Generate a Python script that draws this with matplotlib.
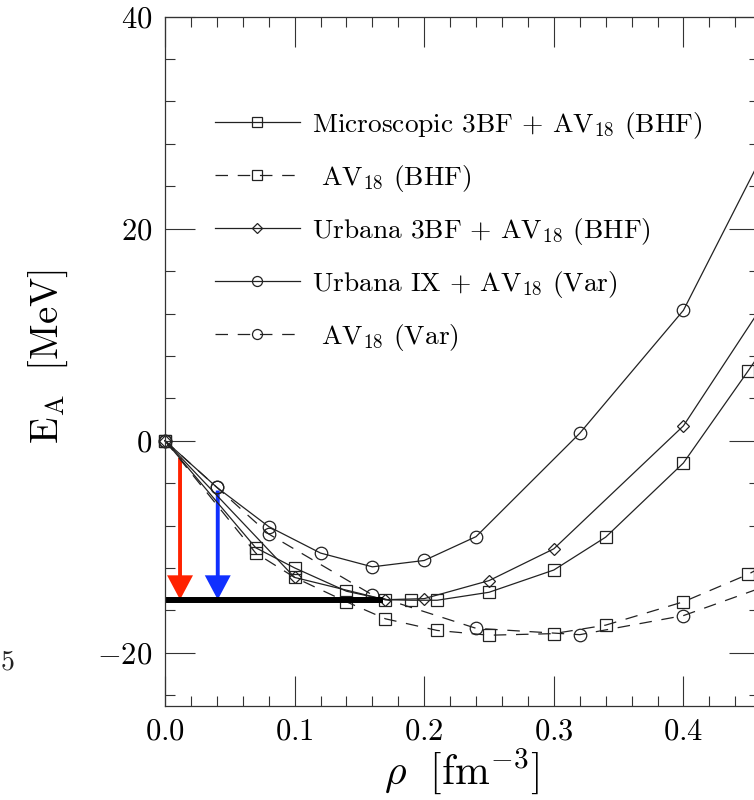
import numpy as np
import matplotlib
matplotlib.use('Agg')
import matplotlib.pyplot as plt

plt.rcParams['font.family'] = ['cmr10']
plt.rcParams['mathtext.fontset'] = 'cm'
plt.rcParams['axes.formatter.use_mathtext'] = True
plt.rcParams['lines.scale_dashes'] = False

# Microscopic 3BF + AV18 (BHF)
micro_rho = [0.0, 0.07, 0.10, 0.14, 0.17, 0.19, 0.21, 0.25, 0.30, 0.34, 0.40, 0.45, 0.50]
micro_e = [0.0, -10.1, -12.0, -14.2, -15.0, -15.05, -15.05, -14.3, -12.2, -9.1, -2.1, 6.6, 15.5]

# AV18 (BHF)
av18_bhf_rho = [0.0, 0.07, 0.10, 0.14, 0.17, 0.21, 0.25, 0.30, 0.34, 0.40, 0.45, 0.50]
av18_bhf_e = [0.0, -10.6, -12.9, -15.2, -16.8, -17.9, -18.35, -18.2, -17.4, -15.2, -12.6, -9.3]

# Urbana 3BF + AV18 (BHF)
urb_bhf_rho = [0.0, 0.10, 0.17, 0.20, 0.25, 0.30, 0.40, 0.50]
urb_bhf_e = [0.0, -12.9, -15.0, -14.9, -13.2, -10.2, 1.4, 20.0]

# Urbana IX + AV18 (Var)
urb_var_rho = [0.0, 0.04, 0.08, 0.12, 0.16, 0.20, 0.24, 0.32, 0.40, 0.48]
urb_var_e = [0.0, -4.4, -8.1, -10.6, -11.9, -11.3, -9.05, 0.7, 12.3, 31.5]

# AV18 (Var)
av18_var_rho = [0.0, 0.04, 0.08, 0.16, 0.24, 0.32, 0.40, 0.48]
av18_var_e = [0.0, -4.4, -8.8, -14.55, -17.7, -18.3, -16.5, -13.0]

labels = ['Microscopic 3BF + AV$_{18}$ (BHF)',
          ' AV$_{18}$ (BHF)',
          'Urbana 3BF + AV$_{18}$ (BHF)',
          'Urbana IX + AV$_{18}$ (Var)',
          ' AV$_{18}$ (Var)']

# empirical saturation band and arrows
sat_rho = [0.0, 0.168]
sat_e = [-15.0, -15.0]
arrow_rho = [0.0116, 0.0407]
arrow_top = [-1.6, -4.7]
arrow_tip = -15.0
arrow_colors = ['#ff2200', '#1030ff']

x_ticks = [0.0, 0.1, 0.2, 0.3, 0.4]
x_labels = ['$0.0$', '$0.1$', '$0.2$', '$0.3$', '$0.4$']
y_ticks = [-20, 0, 20, 40]
y_labels = ['$-20$', '$0$', '$20$', '$40$']

fig = plt.figure(figsize=(7.54, 8.0), dpi=100)
ax = fig.add_axes([165 / 754, 94.3 / 800, 593.6 / 754, 689 / 800])

dash = (9, 7)
style = dict(color='#222222', linewidth=0.9, markersize=9, fillstyle='none',
             markeredgewidth=0.9, clip_on=False)

h1, = ax.plot(micro_rho, micro_e, marker='s', linestyle='-', **style)
h2, = ax.plot(av18_bhf_rho, av18_bhf_e, marker='s', linestyle='--', dashes=dash, **style)
h3, = ax.plot(urb_bhf_rho, urb_bhf_e, marker='D', linestyle='-', **dict(style, markersize=6.5))
h4, = ax.plot(urb_var_rho, urb_var_e, marker='o', linestyle='-', **style)
h5, = ax.plot(av18_var_rho, av18_var_e, marker='o', linestyle='--', dashes=dash, **style)

ax.plot(sat_rho, sat_e, color='black', linewidth=4.3, solid_capstyle='butt')
for x, top, c in zip(arrow_rho, arrow_top, arrow_colors):
    ax.arrow(x, top, 0, arrow_tip - top, width=0.003, head_width=0.02, head_length=2.3,
             length_includes_head=True, color=c, linewidth=0)

ax.set_xlim(0, 0.458)
ax.set_ylim(-25, 40)
ax.set_xticks(x_ticks, x_labels)
ax.set_yticks(y_ticks, y_labels)
ax.xaxis.set_minor_locator(matplotlib.ticker.MultipleLocator(0.02))
ax.yaxis.set_minor_locator(matplotlib.ticker.MultipleLocator(4))
ax.tick_params(which='both', direction='in', top=True, right=True, width=0.8, color='#333333')
ax.tick_params(which='major', length=21.5, labelsize=22, pad=9)
ax.tick_params(which='minor', length=7)
for s in ax.spines.values():
    s.set_linewidth(0.9)
    s.set_color('#333333')

ax.set_xlabel(r'$\rho\ \ [\mathrm{fm}^{-3}]$', fontsize=30)
ax.xaxis.set_label_coords((462 - 165) / 593.6, -(746 - 705.7) / 689)
ax.set_ylabel(r'$\mathrm{E_A\ \ [MeV]}$', fontsize=28)
ax.yaxis.set_label_coords(-(165 - 48) / 593.6, (705.7 - 357) / 689)
ax.yaxis.label.set_va('center')

leg = ax.legend([h1, h2, h3, h4, h5], labels, loc='upper left',
                bbox_to_anchor=(215 / 754, (800 - 110) / 800), bbox_transform=fig.transFigure,
                frameon=False, fontsize=19.7, handlelength=3.1, handletextpad=0.45,
                labelspacing=0.8, borderpad=0, borderaxespad=0, numpoints=1, markerscale=0.8)

fig.text(1 / 754, 1 - 662 / 800, '5', ha='left', va='center', fontsize=20,
         fontweight='bold', color='#222222')

plt.savefig('out.png', dpi=100)
